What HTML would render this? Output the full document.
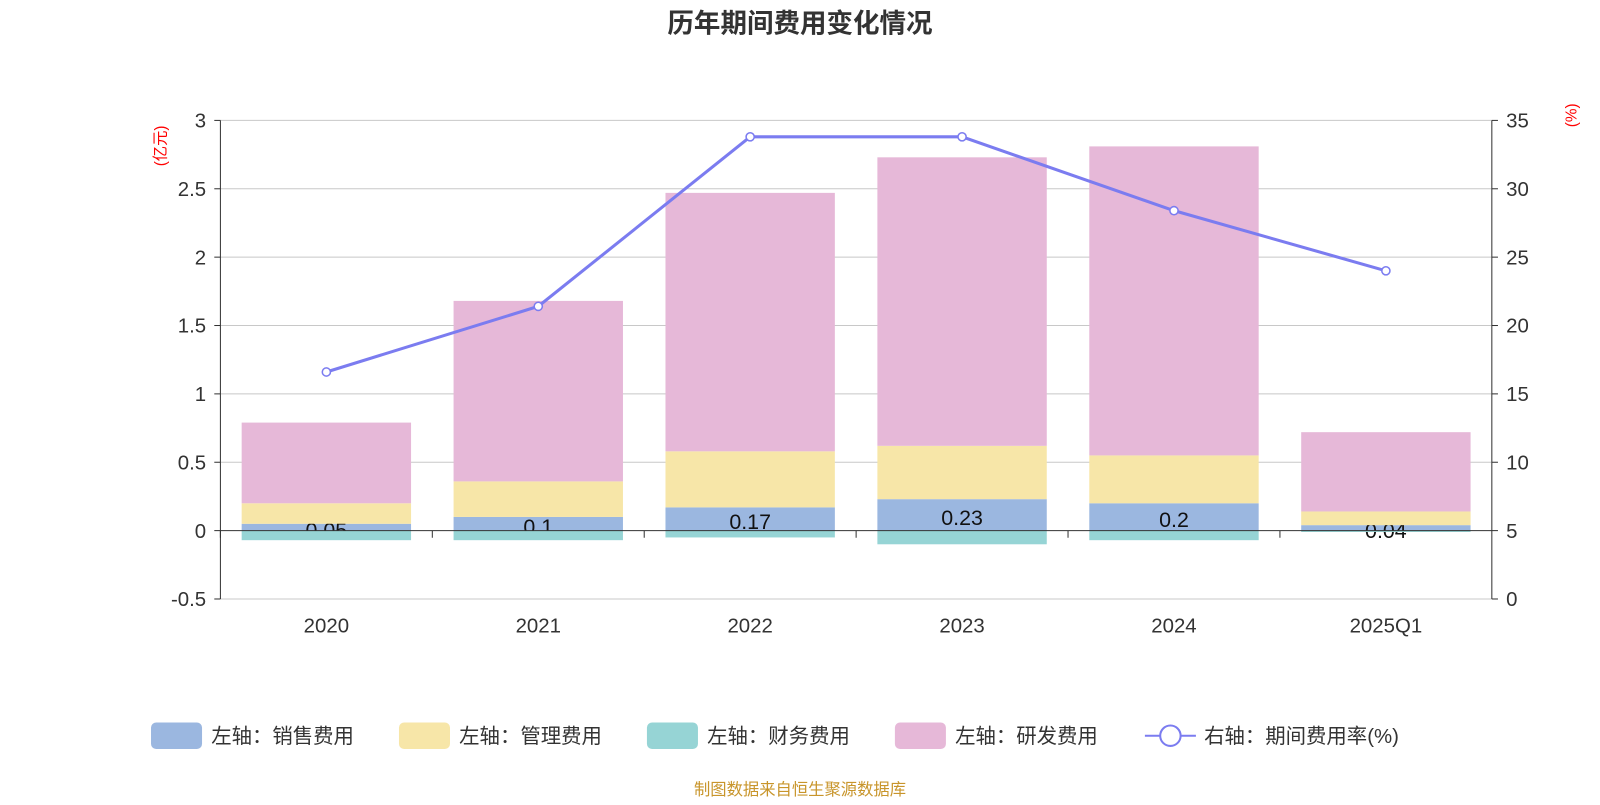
<!DOCTYPE html>
<html><head><meta charset="utf-8">
<style>
body{margin:0;background:#fff;font-family:"Liberation Sans","Noto Sans CJK SC",sans-serif;}
svg text{font-family:"Liberation Sans","Noto Sans CJK SC",sans-serif;}
</style></head>
<body>
<svg id="chart" width="1600" height="800" viewBox="0 0 1568 784">
<text x="784" y="32" text-anchor="middle" font-size="26" font-weight="bold" fill="#333">历年期间费用变化情况</text>
<text transform="translate(162,143) rotate(-90)" text-anchor="middle" font-size="15" fill="red">(亿元)</text>
<text transform="translate(1545,113) rotate(-90)" text-anchor="middle" font-size="15" fill="red">(%)</text>
<g id="grid"></g><g id="bars"></g><g id="line"></g><g id="axes"></g>
<g id="legend" font-size="20" fill="#333">
 <rect x="148" y="708" width="50" height="26" rx="5" fill="#9bb7e0"/>
 <text x="207" y="728">左轴：销售费用</text>
 <rect x="391" y="708" width="50" height="26" rx="5" fill="#f7e6a8"/>
 <text x="450" y="728">左轴：管理费用</text>
 <rect x="634" y="708" width="50" height="26" rx="5" fill="#96d4d5"/>
 <text x="693" y="728">左轴：财务费用</text>
 <rect x="877" y="708" width="50" height="26" rx="5" fill="#e6b8d8"/>
 <text x="936" y="728">左轴：研发费用</text>
 <line x1="1122" y1="721" x2="1172" y2="721" stroke="#7b7cf0" stroke-width="2"/>
 <circle cx="1147" cy="721" r="10" fill="#fff" stroke="#7b7cf0" stroke-width="2"/>
 <text x="1180" y="728">右轴：期间费用率(%)</text>
</g>
<text x="784" y="779" text-anchor="middle" font-size="16" fill="#c8952b">制图数据来自恒生聚源数据库</text>
</svg>
<script>
const categories=["2020","2021","2022","2023","2024","2025Q1"];
const sales=[0.05,0.1,0.17,0.23,0.2,0.04];
const admin=[0.15,0.26,0.41,0.39,0.35,0.10];
const finance=[-0.07,-0.07,-0.05,-0.1,-0.07,-0.01];
const rd=[0.59,1.32,1.89,2.11,2.26,0.58];
const rate=[16.6,21.4,33.8,33.8,28.4,24.0];
const leftTicks=[-0.5,0,0.5,1,1.5,2,2.5,3];
const rightTicks=[0,5,10,15,20,25,30,35];
const NS="http://www.w3.org/2000/svg";
const X0=216,X1=1462,Y0=587,Y1=118;
const yL=v=>Y0-(v+0.5)/3.5*(Y0-Y1);
const yR=v=>Y0-v/35*(Y0-Y1);
const band=(X1-X0)/categories.length;
const xC=i=>X0+band*(i+0.5);
const bw=166;
function mk(tag,attrs,parent,name,text){const e=document.createElementNS(NS,tag);for(const k in attrs)e.setAttribute(k,attrs[k]);


if(text!==undefined)e.textContent=text;document.getElementById(parent).appendChild(e);return e;}
leftTicks.forEach(t=>{const y=yL(t);
 if(t!==0)mk('line',{x1:X0,x2:X1,y1:y,y2:y,stroke:'#c8c8c8','stroke-width':1},'grid','grid-line');
 mk('line',{x1:X0-6,x2:X0,y1:y,y2:y,stroke:'#333'},'axes','left-tick');
 mk('text',{x:X0-14,y:y+7,'text-anchor':'end','font-size':20,fill:'#333'},'axes','left-tick-label',String(t));});
rightTicks.forEach(t=>{const y=yR(t);
 mk('line',{x1:X1,x2:X1+6,y1:y,y2:y,stroke:'#333'},'axes','right-tick');
 mk('text',{x:X1+14,y:y+7,'font-size':20,fill:'#333'},'axes','right-tick-label',String(t));});
mk('line',{x1:X0,x2:X0,y1:Y1,y2:Y0,stroke:'#333'},'axes','left-axis');
mk('line',{x1:X1,x2:X1,y1:Y1,y2:Y0,stroke:'#333'},'axes','right-axis');
mk('line',{x1:X0,x2:X1,y1:yL(0),y2:yL(0),stroke:'#333'},'axes','x-axis');
categories.forEach((c,i)=>{
 mk('line',{x1:X0+band*i,x2:X0+band*i,y1:yL(0),y2:yL(0)+7,stroke:'#333'},'axes','x-tick');
 mk('text',{x:xC(i),y:620,'text-anchor':'middle','font-size':20,fill:'#333'},'axes','x-tick-label',c);
 const x=xC(i)-bw/2;
 const s0=yL(0),s1=yL(sales[i]),a1=yL(sales[i]+admin[i]),r1=yL(sales[i]+admin[i]+rd[i]);
 mk('rect',{x:x,y:s1,width:bw,height:s0-s1,fill:'#9bb7e0'},'bars','bar-sales-'+c);
 mk('text',{x:xC(i),y:(s0+s1)/2+10,'text-anchor':'middle','font-size':21,fill:'#111'},'bars','sales-value-label',String(sales[i]));
 mk('rect',{x:x,y:a1,width:bw,height:s1-a1,fill:'#f7e6a8'},'bars','bar-admin-'+c);
 mk('rect',{x:x,y:s0,width:bw,height:yL(finance[i])-s0,fill:'#96d4d5'},'bars','bar-finance-'+c);
 mk('rect',{x:x,y:r1,width:bw,height:a1-r1,fill:'#e6b8d8'},'bars','bar-rd-'+c);
});
mk('polyline',{points:rate.map((v,i)=>xC(i)+','+yR(v)).join(' '),fill:'none',stroke:'#7b7cf0','stroke-width':3},'line','rate-line');
rate.forEach((v,i)=>mk('circle',{cx:xC(i),cy:yR(v),r:4,fill:'#fff',stroke:'#7b7cf0','stroke-width':1.5},'line','rate-point-'+categories[i]));
</script>
</body></html>
